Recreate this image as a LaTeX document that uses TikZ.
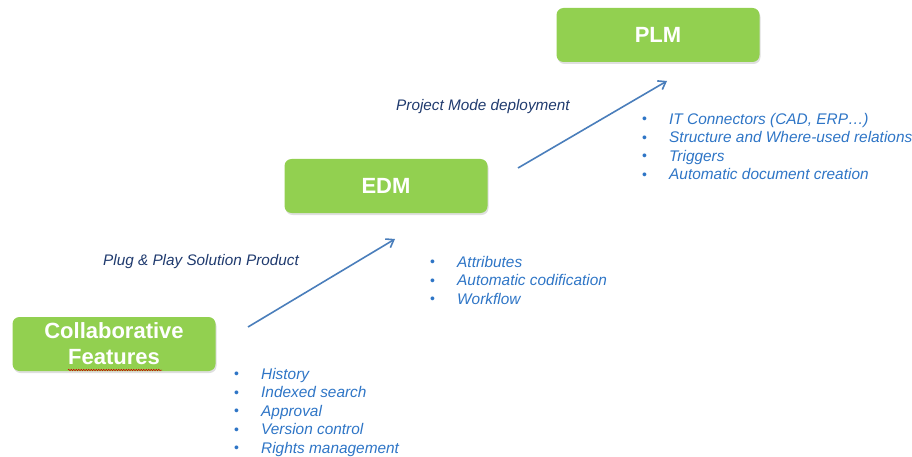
\documentclass[tikz,border=0pt]{standalone}
\usepackage{fontspec}
\setmainfont{Liberation Sans}
\usetikzlibrary{shadows,arrows.meta,decorations.pathmorphing}
\definecolor{boxgreen}{HTML}{92D050}
\definecolor{arrowblue}{HTML}{4A7EBB}
\definecolor{listblue}{HTML}{2E75C6}
\definecolor{labelnavy}{HTML}{1F3A6E}
\tikzset{
  stagebox/.style={fill=boxgreen, rounded corners=7pt, minimum width=203pt, minimum height=54pt,
    text=white, font=\bfseries\fontsize{22}{26}\selectfont, align=center, inner sep=0pt,
    drop shadow={shadow xshift=1pt, shadow yshift=-2pt, opacity=0.25, fill=black!50}},
  steparrow/.style={draw=arrowblue, line width=1.6pt, -{Straight Barb[length=7pt,width=10pt,line width=1.6pt]}},
  steplabel/.style={text=labelnavy, font=\itshape\fontsize{15.3}{18}\selectfont, anchor=west, inner sep=0pt},
  itemlist/.style={text=listblue, font=\itshape\fontsize{15.4}{18.5}\selectfont, anchor=north west, inner sep=0pt, align=left},
}
\newcommand{\bul}{\makebox[27pt][l]{\raisebox{0.05ex}{\upshape\fontsize{14}{14}\selectfont\textbullet}}}
\begin{document}
\begin{tikzpicture}[x=1pt,y=-1pt]
\useasboundingbox (0,0) rectangle (912,457);
\node[stagebox] (plm) at (658,35) {PLM};
\node[stagebox] (edm) at (386,186) {EDM};
\node[stagebox] (collab) at (114,344) {Collaborative\\Features};
\coordinate (a1s) at (248,327);
\coordinate (a1e) at (395,239);
\coordinate (a2s) at (518,168);
\coordinate (a2e) at (667,81);
\draw[steparrow] (a1s) -- (a1e);
\draw[steparrow] (a2s) -- (a2e);
\coordinate (w1) at (68,370);
\coordinate (w2) at (162,370);
\draw[red!80!black, line width=0.5pt, decorate, decoration={snake, amplitude=0.8pt, segment length=2.5pt}] (w1) -- (w2);
\node[steplabel] (lab1) at (103,262) {Plug \& Play Solution Product};
\node[steplabel] (lab2) at (396,107) {Project Mode deployment};
\node[itemlist] (l1) at (234,368) {\bul History\\\bul Indexed search\\\bul Approval\\\bul Version control\\\bul Rights management};
\node[itemlist] (l2) at (430,256) {\bul Attributes\\\bul Automatic codification\\\bul Workflow};
\node[itemlist] (l3) at (642,113) {\bul IT Connectors (CAD, ERP…)\\\bul Structure and Where-used relations\\\bul Triggers\\\bul Automatic document creation};
\end{tikzpicture}
\end{document}
